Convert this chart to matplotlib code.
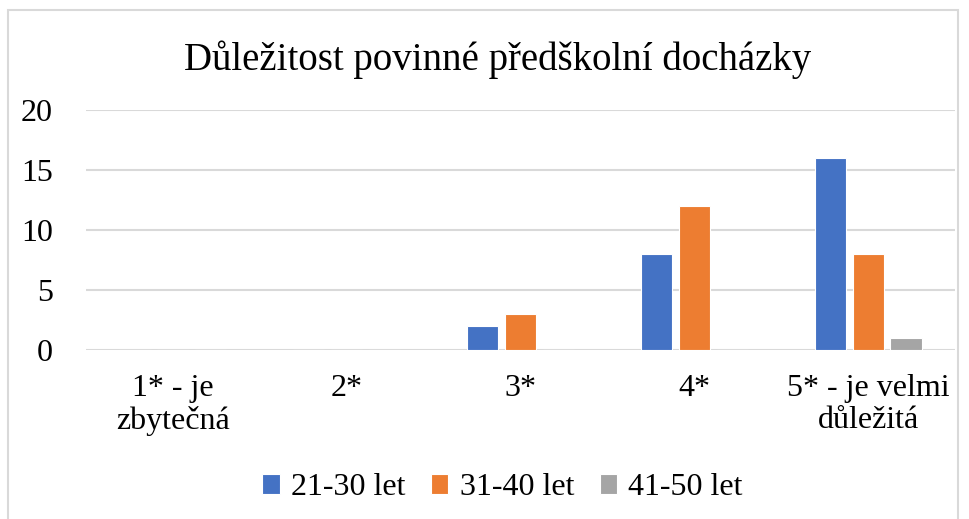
import matplotlib.pyplot as plt
import numpy as np
from matplotlib.patches import Rectangle

plt.rcParams['font.family'] = ['Liberation Serif', 'DejaVu Serif']

categories = ["1* - je\nzbytečná", "2*", "3*", "4*", "5* - je velmi\ndůležitá"]
series = ["21-30 let", "31-40 let", "41-50 let"]
v21_30 = [0, 0, 2, 8, 16]
v31_40 = [0, 0, 3, 12, 8]
v41_50 = [0, 0, 0, 0, 1]
colors = ["#4472C4", "#ED7D31", "#A5A5A5"]

fig = plt.figure(figsize=(9.7, 5.19), dpi=100)
ax = fig.add_axes([0.0887, 0.3256, 0.8959, 0.4624])

x = np.arange(len(categories))
w = 0.18
step = 0.218
for i, (vals, name) in enumerate(zip([v21_30, v31_40, v41_50], series)):
    ax.bar(x + (i - 1) * step, vals, w, label=name, color=colors[i],
           edgecolor="white", linewidth=0.8, zorder=3)

ax.set_xlim(-0.5, len(categories) - 0.5)
ax.set_ylim(0, 20)
ax.set_yticks([0, 5, 10, 15, 20])
ax.yaxis.grid(True, color="#D9D9D9", linewidth=1.5, zorder=0)
for s in ax.spines.values():
    s.set_visible(False)
ax.tick_params(axis="both", length=0, labelsize=23, colors="black")
ax.tick_params(axis="y", pad=24)
ax.tick_params(axis="x", pad=17)
ax.set_xticks(x)
ax.set_xticklabels(categories, linespacing=1.15)

fig.text(0.513, 0.885, "Důležitost povinné předškolní docházky",
         ha="center", va="center", fontsize=28)

fig.legend(loc="center", bbox_to_anchor=(0.518, 0.06), ncol=3, frameon=False,
           fontsize=23, handlelength=0.55, handleheight=0.55, handletextpad=0.35,
           columnspacing=0.8)

fig.patches.append(Rectangle((8 / 970, -0.05), 950 / 970, 1.05 - 10 / 519,
                             transform=fig.transFigure, fill=False,
                             edgecolor="#D9D9D9", linewidth=1.5))

fig.savefig("out.png", dpi=100, facecolor="white")
